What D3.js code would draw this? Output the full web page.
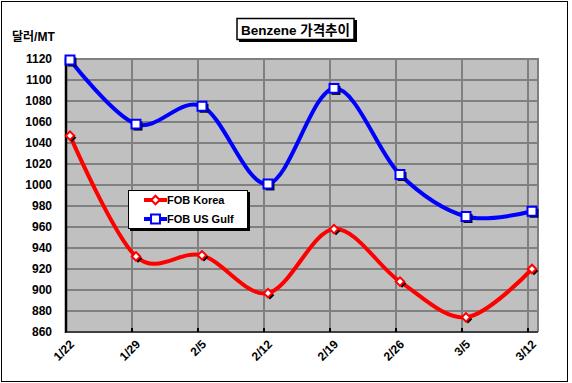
<!DOCTYPE html>
<html>
<head>
<meta charset="utf-8">
<script src="https://cdn.jsdelivr.net/npm/d3@7"></script>
<style>
  body { margin: 0; background: #fff; }
  svg { display: block; font-family: Arial, 'Liberation Sans', 'Noto Sans CJK KR', sans-serif; }
</style>
</head>
<body>
<div id="chart"></div>
<script>
// chart data
const dates = ['1/22', '1/29', '2/5', '2/12', '2/19', '2/26', '3/5', '3/12'];
const fobKorea = [1047, 932, 933, 897, 958, 908, 874, 920];
const fobUsGulf = [1119, 1058, 1075, 1001, 1092, 1010, 970, 975];
const yTicks = [860, 880, 900, 920, 940, 960, 980, 1000, 1020, 1040, 1060, 1080, 1100, 1120];

const W = 572, H = 383;
const plot = { left: 66, top: 59, right: 538, bottom: 332 };

const svg = d3.select('#chart').append('svg')
  .attr('width', W)
  .attr('height', H);

// outer frame
svg.append('rect')
  .attr('x', 1.5).attr('y', 1.5)
  .attr('width', 566).attr('height', 380)
  .attr('fill', '#fff').attr('stroke', '#000').attr('stroke-width', 1);

const x = d3.scalePoint().domain(dates).range([plot.left, 528]);
const xOff = 4; // excel draws markers a bit right of the gridline
const y = d3.scaleLinear().domain([860, 1120]).range([plot.bottom, plot.top]);

// plot area
svg.append('rect')
  .attr('x', plot.left).attr('y', plot.top)
  .attr('width', plot.right - plot.left).attr('height', plot.bottom - plot.top)
  .attr('fill', '#c0c0c0');

const grid = svg.append('g').attr('stroke', '#808080').attr('stroke-width', 2);
grid.selectAll('.hg').data(yTicks).join('line')
  .attr('x1', plot.left).attr('x2', plot.right)
  .attr('y1', d => y(d)).attr('y2', d => y(d));
grid.selectAll('.vg').data(dates.slice(1)).join('line')
  .attr('x1', d => x(d)).attr('x2', d => x(d))
  .attr('y1', plot.top).attr('y2', plot.bottom);
grid.append('line')
  .attr('x1', plot.right).attr('x2', plot.right)
  .attr('y1', plot.top - 1).attr('y2', plot.bottom);

// axes lines
svg.append('line')
  .attr('x1', plot.left).attr('x2', plot.left)
  .attr('y1', plot.top - 1).attr('y2', plot.bottom + 1)
  .attr('stroke', '#000').attr('stroke-width', 2.5);
svg.append('line')
  .attr('x1', plot.left).attr('x2', plot.right)
  .attr('y1', plot.bottom).attr('y2', plot.bottom)
  .attr('stroke', '#404040').attr('stroke-width', 2);

// bottom tick marks
svg.selectAll('.xt').data(dates).join('line')
  .attr('x1', d => x(d)).attr('x2', d => x(d))
  .attr('y1', plot.bottom - 4).attr('y2', plot.bottom)
  .attr('stroke', '#000').attr('stroke-width', 2);

// y labels
svg.selectAll('.yl').data(yTicks).join('text')
  .attr('x', 52).attr('y', d => y(d))
  .attr('dy', '0.35em')
  .attr('text-anchor', 'end')
  .attr('font-size', 12).attr('font-weight', 'bold')
  .text(d => d);

// x labels
svg.selectAll('.xl').data(dates).join('text')
  .attr('transform', d => `translate(${x(d) + 6},${plot.bottom + 10}) rotate(-45)`)
  .attr('dy', '0.35em')
  .attr('text-anchor', 'end')
  .attr('font-size', 12).attr('font-weight', 'bold')
  .text(d => d);

// y axis title
svg.append('text')
  .attr('x', 12).attr('y', 41)
  .attr('font-size', 12).attr('font-weight', 'bold')
  .text('달러/MT');

// title box
svg.append('rect')
  .attr('x', 239).attr('y', 20).attr('width', 118).attr('height', 22)
  .attr('fill', '#000');
svg.append('rect')
  .attr('x', 237).attr('y', 18.5).attr('width', 117).attr('height', 21)
  .attr('fill', '#fff').attr('stroke', '#000').attr('stroke-width', 1.5);
svg.append('text')
  .attr('x', 295.5).attr('y', 34.5)
  .attr('text-anchor', 'middle')
  .attr('font-size', 13.5).attr('font-weight', 'bold')
  .text('Benzene 가격추이');

const line = d3.line()
  .x((d, i) => x(dates[i]) + xOff)
  .y(d => y(d))
  .curve(d3.curveCardinal.tension(0));

const series = [
  { name: 'FOB Korea', values: fobKorea, color: '#ff0000', size: 36, rot: 45 },
  { name: 'FOB US Gulf', values: fobUsGulf, color: '#0000ff', size: 80, rot: 0 },
];

series.forEach(s => {
  svg.append('path')
    .attr('d', line(s.values))
    .attr('fill', 'none')
    .attr('stroke', s.color)
    .attr('stroke-width', 4);

  const sym = d3.symbol().type(d3.symbolSquare).size(s.size);
  // marker shadows
  svg.append('g').selectAll('path').data(s.values).join('path')
    .attr('d', sym)
    .attr('transform', (d, i) => `translate(${x(dates[i]) + xOff + 2},${y(d) + 2}) rotate(${s.rot})`)
    .attr('fill', '#000');
  svg.append('g').selectAll('path').data(s.values).join('path')
    .attr('d', sym)
    .attr('transform', (d, i) => `translate(${x(dates[i]) + xOff},${y(d)}) rotate(${s.rot})`)
    .attr('fill', '#fff')
    .attr('stroke', s.color)
    .attr('stroke-width', 2);
});

// legend
const lg = svg.append('g').attr('transform', 'translate(128,190)');
lg.append('rect')
  .attr('x', 2).attr('y', 2).attr('width', 120).attr('height', 39)
  .attr('fill', '#000');
lg.append('rect')
  .attr('x', 0.5).attr('y', 0.5).attr('width', 119).attr('height', 38)
  .attr('fill', '#fff').attr('stroke', '#000').attr('stroke-width', 1);

series.forEach((s, i) => {
  const ly = 10 + i * 19;
  lg.append('line')
    .attr('x1', 16).attr('x2', 39)
    .attr('y1', ly).attr('y2', ly)
    .attr('stroke', s.color).attr('stroke-width', 4);
  lg.append('path')
    .attr('d', d3.symbol().type(d3.symbolSquare).size(s.size)())
    .attr('transform', `translate(27.5,${ly}) rotate(${s.rot})`)
    .attr('fill', '#fff')
    .attr('stroke', s.color)
    .attr('stroke-width', 2);
  lg.append('text')
    .attr('x', 39).attr('y', ly)
    .attr('dy', '0.35em')
    .attr('font-size', 11).attr('font-weight', 'bold')
    .text(s.name);
});
</script>
</body>
</html>
